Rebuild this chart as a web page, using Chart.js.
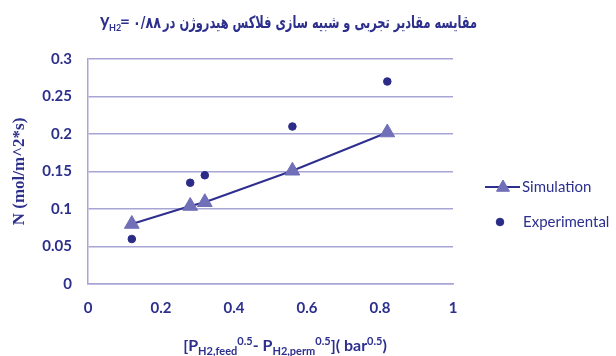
<!DOCTYPE html>
<html>
<head>
<meta charset="utf-8">
<script src="https://cdn.jsdelivr.net/npm/chart.js@4.4.1/dist/chart.umd.min.js"></script>
<style>
  html, body { margin: 0; padding: 0; background: #ffffff; }
  #wrap { width: 616px; height: 356px; position: relative; }
</style>
</head>
<body>
<div id="wrap"><canvas id="chart" width="616" height="356"></canvas></div>
<script>
// Driving force [P_H2,feed^0.5 - P_H2,perm^0.5] (bar^0.5)
const drivingForce = [0.12, 0.28, 0.32, 0.56, 0.82];
// Hydrogen flux N (mol/m^2*s)
const simulationFlux = [0.08, 0.104, 0.109, 0.151, 0.202];
const experimentalFlux = [0.06, 0.135, 0.145, 0.21, 0.27];
const seriesNames = ['Simulation', 'Experimental'];
const xTicks = [0, 0.2, 0.4, 0.6, 0.8, 1];
const yTicks = [0, 0.05, 0.1, 0.15, 0.2, 0.25, 0.3];

const TEXT = '#2c2f8c';
const GRID = '#a7a5d6';
const LINE = '#2e2f8f';
const TRI = '#716fb8';
const DOT = '#2b2b88';

const pts = ys => drivingForce.map((x, i) => ({ x: x, y: ys[i] }));

// Title, x-axis title (with sub/superscripts) and legend
const decorations = {
  id: 'decorations',
  afterDraw(chart) {
    const ctx = chart.ctx;
    ctx.save();
    ctx.fillStyle = TEXT;
    ctx.textBaseline = 'alphabetic';

    // Title
    const arabic = 'مقایسه مقادیر تجربی و شبیه سازی فلاکس هیدروژن در';
    ctx.font = 'bold 17px "DejaVu Sans"';
    ctx.direction = 'rtl';
    ctx.textAlign = 'right';
    ctx.fillText(arabic, 477, 28, 314);
    ctx.direction = 'ltr';
    ctx.textAlign = 'left';
    ctx.font = 'bold 16px "DejaVu Sans"';
    ctx.fillText('۰/۸۸', 133, 28, 28);
    ctx.font = 'bold 18px Lato';
    ctx.fillText('y', 100, 27);
    ctx.font = 'bold 9px Lato';
    ctx.fillText('H2', 109, 31);
    ctx.font = 'bold 17px Lato';
    ctx.fillText('=', 120, 27);

    // X-axis title
    const parts = [
      ['[P', 'n'], ['H2,feed', 'sub'], ['0.5', 'sup'], ['- P', 'n'],
      ['H2,perm', 'sub'], ['0.5', 'sup'], [']( bar', 'n'], ['0.5', 'sup'], [')', 'n']
    ];
    const fontFor = k => k === 'n' ? 'bold 16px Lato' : 'bold 11px Lato';
    let total = 0;
    parts.forEach(([t, k]) => { ctx.font = fontFor(k); total += ctx.measureText(t).width; });
    let x = 285 - total / 2;
    const base = 351;
    parts.forEach(([t, k]) => {
      ctx.font = fontFor(k);
      const dy = k === 'sub' ? 4 : (k === 'sup' ? -6 : 0);
      ctx.fillText(t, x, base + dy);
      x += ctx.measureText(t).width;
    });
    ctx.restore();

    // Legend
    const sim = chart.data.datasets[0];
    const exp = chart.data.datasets[1];
    ctx.save();
    ctx.strokeStyle = sim.borderColor;
    ctx.lineWidth = sim.borderWidth;
    ctx.beginPath();
    ctx.moveTo(485, 187);
    ctx.lineTo(520, 187);
    ctx.stroke();
    ctx.fillStyle = sim.pointBackgroundColor;
    ctx.strokeStyle = sim.pointBorderColor;
    ctx.lineWidth = 1;
    Chart.helpers.drawPoint(ctx, { pointStyle: 'triangle', radius: 7.5, borderWidth: 1 }, 503, 187.5);
    ctx.fillStyle = exp.pointBackgroundColor;
    ctx.strokeStyle = exp.pointBorderColor;
    Chart.helpers.drawPoint(ctx, { pointStyle: 'circle', radius: 3.8, borderWidth: 1 }, 500, 222);
    ctx.fillStyle = TEXT;
    ctx.font = '15px Lato';
    ctx.textBaseline = 'middle';
    ctx.textAlign = 'left';
    ctx.fillText(seriesNames[0], 522, 187);
    ctx.fillText(seriesNames[1], 523, 222);
    ctx.restore();
  }
};

new Chart(document.getElementById('chart'), {
  type: 'scatter',
  data: {
    datasets: [
      {
        label: seriesNames[0],
        data: pts(simulationFlux),
        showLine: true,
        borderColor: LINE,
        borderWidth: 2,
        pointStyle: 'triangle',
        pointRadius: 8.5,
        pointHoverRadius: 8.5,
        pointBackgroundColor: TRI,
        pointBorderColor: TRI,
        pointBorderWidth: 1
      },
      {
        label: seriesNames[1],
        data: pts(experimentalFlux),
        showLine: false,
        pointStyle: 'circle',
        pointRadius: 3.8,
        pointHoverRadius: 3.8,
        pointBackgroundColor: DOT,
        pointBorderColor: DOT,
        pointBorderWidth: 1
      }
    ]
  },
  options: {
    responsive: false,
    animation: false,
    layout: { padding: { left: 0, right: 163, top: 59, bottom: 0 } },
    plugins: {
      legend: { display: false },
      tooltip: { enabled: false },
      title: { display: false }
    },
    scales: {
      x: {
        type: 'linear',
        min: xTicks[0],
        max: xTicks[xTicks.length - 1],
        afterFit: s => { s.height = 72; },
        afterBuildTicks: s => { s.ticks = xTicks.map(v => ({ value: v })); },
        grid: { display: false, drawTicks: false },
        border: { display: true, color: GRID, width: 1.5 },
        ticks: {
          padding: 15,
          color: TEXT,
          font: { family: 'Lato', size: 15, weight: 'bold' },
          callback: v => String(v)
        }
      },
      y: {
        type: 'linear',
        min: yTicks[0],
        max: yTicks[yTicks.length - 1],
        afterFit: s => { s.width = 88; },
        afterBuildTicks: s => { s.ticks = yTicks.map(v => ({ value: v })); },
        grid: { display: true, color: GRID, lineWidth: 1.5, drawTicks: false },
        border: { display: true, color: GRID, width: 1.5 },
        ticks: {
          padding: 16,
          color: TEXT,
          font: { family: 'Lato', size: 15, weight: 'bold' },
          callback: v => String(v)
        },
        title: {
          display: true,
          text: 'N (mol/m^2*s)',
          color: TEXT,
          padding: { top: 9, bottom: 0 },
          font: { family: '"Liberation Serif"', size: 17, weight: 'bold' }
        }
      }
    }
  },
  plugins: [decorations]
});
</script>
</body>
</html>
